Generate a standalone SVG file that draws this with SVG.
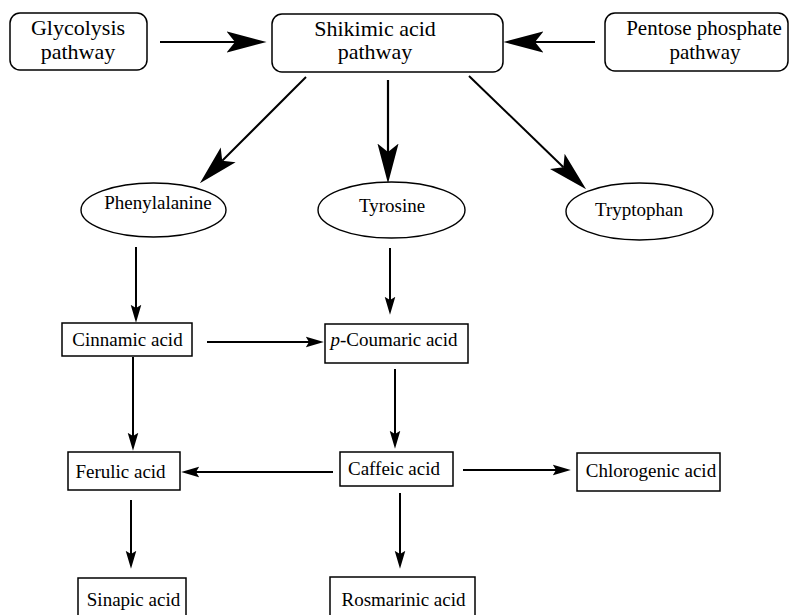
<svg xmlns="http://www.w3.org/2000/svg" width="790" height="615" viewBox="0 0 790 615">
<style>
.box{fill:#fff;stroke:#000;stroke-width:1.5}
.ell{fill:#fff;stroke:#000;stroke-width:1.4}
.t{font-family:"Liberation Serif","Times New Roman",serif;fill:#000;text-anchor:middle}
.big{font-size:22px}
.mid{font-size:19px}
.line{stroke:#000;stroke-width:2;fill:none}
.lineb{stroke:#000;stroke-width:2.2;fill:none}
</style>
<defs>
<marker id="ab" markerUnits="userSpaceOnUse" markerWidth="40" markerHeight="22" viewBox="0 0 38 20" refX="8" refY="10" orient="auto">
<path d="M0,0 L38,10 L0,20 L8,10 Z" fill="#000"/>
</marker>
<marker id="as" markerUnits="userSpaceOnUse" markerWidth="18" markerHeight="12" viewBox="0 0 17 10" refX="3" refY="5" orient="auto">
<path d="M0,0 L17,5 L0,10 L3,5 Z" fill="#000"/>
</marker>
</defs>
<g id="connectors">
<line class="lineb" x1="160" y1="42" x2="235" y2="42" marker-end="url(#ab)"/>
<line class="lineb" x1="595" y1="42" x2="535" y2="42" marker-end="url(#ab)"/>
<line class="line" x1="306" y1="77" x2="222.2" y2="160.8" marker-end="url(#ab)"/>
<line class="lineb" x1="388" y1="80" x2="388" y2="152" marker-end="url(#ab)"/>
<line class="line" x1="469" y1="76" x2="563.4" y2="167.2" marker-end="url(#ab)"/>
<line class="line" x1="136" y1="247" x2="136" y2="308" marker-end="url(#as)"/>
<line class="line" x1="390" y1="248" x2="390" y2="300" marker-end="url(#as)"/>
<line class="line" x1="207" y1="342" x2="309" y2="342" marker-end="url(#as)"/>
<line class="line" x1="133" y1="357" x2="133" y2="436" marker-end="url(#as)"/>
<line class="line" x1="395" y1="369" x2="395" y2="434" marker-end="url(#as)"/>
<line class="line" x1="333" y1="472" x2="196" y2="472" marker-end="url(#as)"/>
<line class="line" x1="463" y1="470" x2="556" y2="470" marker-end="url(#as)"/>
<line class="line" x1="131" y1="500" x2="131" y2="554" marker-end="url(#as)"/>
<line class="line" x1="400" y1="493" x2="400" y2="554" marker-end="url(#as)"/>
</g>
<g id="glycolysis">
<rect class="box" x="10" y="13" width="137" height="57" rx="10"/>
<text class="t big" x="78" y="35">Glycolysis</text>
<text class="t big" x="78" y="59">pathway</text>
</g>
<g id="shikimic">
<rect class="box" x="272" y="14" width="231" height="58" rx="10"/>
<text class="t big" x="375" y="36">Shikimic acid</text>
<text class="t big" x="375" y="59">pathway</text>
</g>
<g id="pentose">
<rect class="box" x="605" y="13" width="183" height="58" rx="10"/>
<text class="t big" x="704" y="35" style="font-size:21px">Pentose phosphate</text>
<text class="t big" x="705" y="59" style="font-size:21px">pathway</text>
</g>
<g id="phenylalanine">
<ellipse class="ell" cx="153.5" cy="210" rx="72.5" ry="27"/>
<text class="t mid" x="158" y="209">Phenylalanine</text>
</g>
<g id="tyrosine">
<ellipse class="ell" cx="391.5" cy="210" rx="73.5" ry="28"/>
<text class="t mid" x="392" y="212">Tyrosine</text>
</g>
<g id="tryptophan">
<ellipse class="ell" cx="639.5" cy="211.5" rx="73.5" ry="28.5"/>
<text class="t mid" x="639" y="216">Tryptophan</text>
</g>
<g id="cinnamic">
<rect class="box" x="62" y="323" width="130" height="33"/>
<text class="t mid" x="127.5" y="346">Cinnamic acid</text>
</g>
<g id="pcoumaric">
<rect class="box" x="325" y="324" width="143" height="39"/>
<text class="t mid" x="394" y="346"><tspan font-style="italic">p</tspan>-Coumaric acid</text>
</g>
<g id="ferulic">
<rect class="box" x="68" y="452" width="112" height="38"/>
<text class="t mid" x="120.5" y="478">Ferulic acid</text>
</g>
<g id="caffeic">
<rect class="box" x="340" y="452" width="113" height="34"/>
<text class="t mid" x="394" y="475">Caffeic acid</text>
</g>
<g id="chlorogenic">
<rect class="box" x="577" y="453" width="143" height="38"/>
<text class="t mid" x="651" y="477">Chlorogenic acid</text>
</g>
<g id="sinapic">
<rect class="box" x="78" y="578" width="108" height="50"/>
<text class="t mid" x="133.5" y="606">Sinapic acid</text>
</g>
<g id="rosmarinic">
<rect class="box" x="330" y="577" width="145" height="50"/>
<text class="t mid" x="403.5" y="606">Rosmarinic acid</text>
</g>
</svg>
